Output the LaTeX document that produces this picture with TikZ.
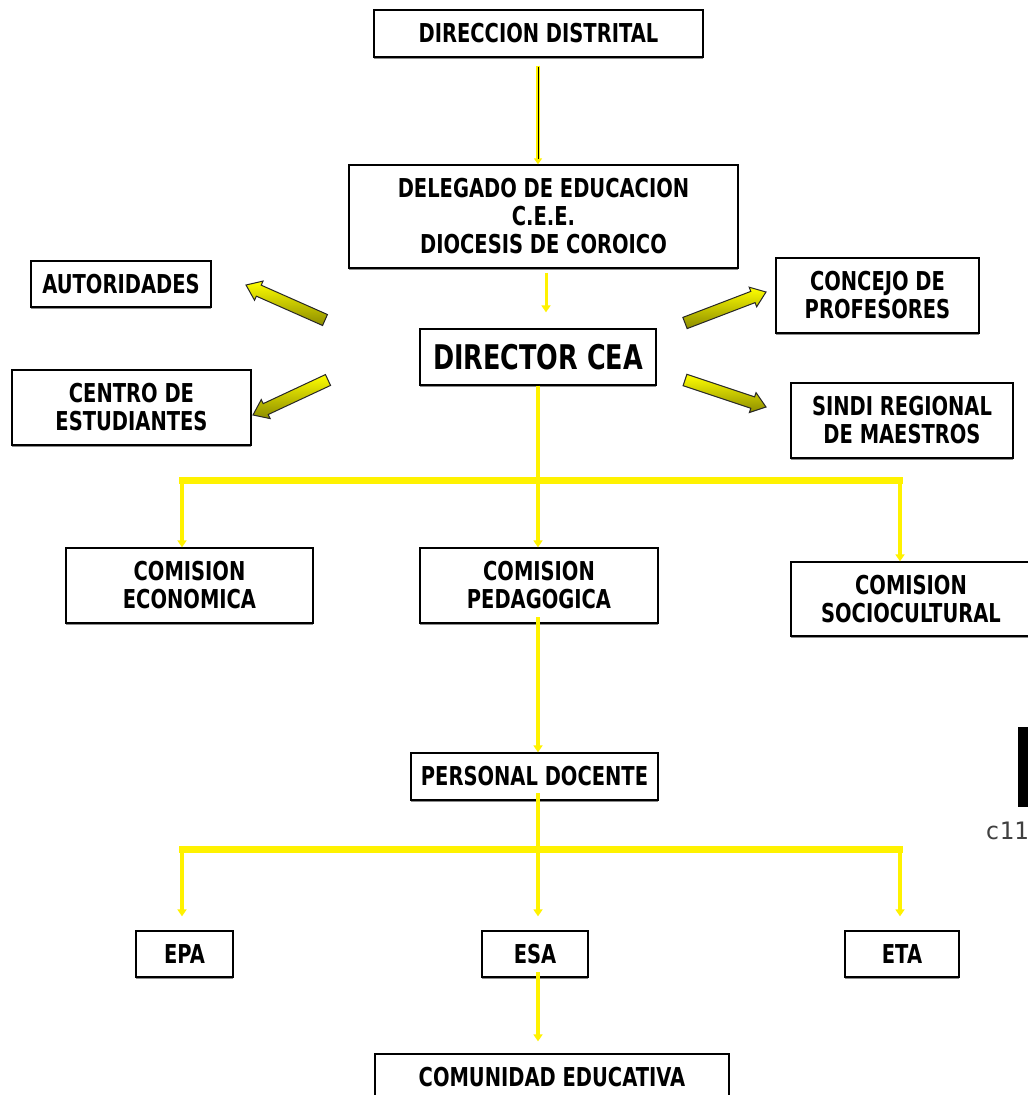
\documentclass[tikz,border=0pt]{standalone}
\usepackage{fontspec}
\newfontfamily\bfont{DejaVu Sans Bold}[FakeStretch=0.75]
\newfontfamily\mfont{DejaVu Sans Mono}
\usetikzlibrary{arrows.meta,calc,shadows}
\definecolor{olivedark}{RGB}{140,140,0}
\newcommand\blkarrow[2]{%
  \path ($(#2)!14pt!(#1)$) coordinate (nk);
  \draw[barrow] ($(#1)!6pt!90:(#2)$) -- ($(nk)!6pt!90:(#2)$) -- ($(nk)!10.5pt!90:(#2)$) -- (#2)
     -- ($(nk)!10.5pt!-90:(#2)$) -- ($(nk)!6pt!-90:(#2)$) -- ($(#1)!6pt!-90:(#2)$) -- cycle;}
\begin{document}
\begin{tikzpicture}[x=1pt,y=-1pt,
  box/.style={draw=black, line width=1.3pt, fill=white, align=center, inner sep=0pt,
    font=\bfont\fontsize{26}{28}\selectfont,
    drop shadow={shadow xshift=0pt,shadow yshift=-2pt,fill=black!45,opacity=1}},
  conn/.style={draw=yellow, line width=4pt, -{Triangle[width=9pt,length=7pt]}, yellow},
  plain/.style={draw=yellow, line width=4pt},
  bus/.style={draw=yellow, line width=7pt},
  barrow/.style={draw=black!85, line width=1pt, top color=yellow, bottom color=olivedark}
]
\useasboundingbox[fill=white] (0,0) rectangle (1028,1095);

% boxes
\node[box, minimum width=329pt, minimum height=47pt] (dd) at (538.5,33.5) {DIRECCION DISTRITAL};
\node[box, minimum width=389pt, minimum height=103pt] (deleg) at (543.5,216.5) {DELEGADO DE EDUCACION\\C.E.E.\\DIOCESIS DE COROICO};
\node[box, minimum width=236pt, minimum height=56pt, font=\bfont\fontsize{34}{36}\selectfont] (dir) at (538,357) {DIRECTOR CEA};
\node[box, minimum width=180pt, minimum height=46pt] (aut) at (121,284) {AUTORIDADES};
\node[box, minimum width=239pt, minimum height=75pt] (cen) at (131.5,407.5) {CENTRO DE\\ESTUDIANTES};
\node[box, minimum width=203pt, minimum height=75pt] (con) at (877.5,295.5) {CONCEJO DE\\PROFESORES};
\node[box, minimum width=222pt, minimum height=75pt] (sin) at (902,420.5) {SINDI REGIONAL\\DE MAESTROS};
\node[box, minimum width=247pt, minimum height=75pt] (ce) at (189.5,585.5) {COMISION\\ECONOMICA};
\node[box, minimum width=238pt, minimum height=75pt] (cp) at (539,585.5) {COMISION\\PEDAGOGICA};
\node[box, minimum width=240pt, minimum height=74pt] (cs) at (911,599) {COMISION\\SOCIOCULTURAL};
\node[box, minimum width=247pt, minimum height=47pt] (pd) at (534.5,776.5) {PERSONAL DOCENTE};
\node[box, minimum width=97pt, minimum height=46pt] (epa) at (184.5,954) {EPA};
\node[box, minimum width=106pt, minimum height=46pt] (esa) at (535,954) {ESA};
\node[box, minimum width=114pt, minimum height=46pt] (eta) at (902,954) {ETA};
\node[box, minimum width=354pt, minimum height=46pt] (com) at (552,1077) {COMUNIDAD EDUCATIVA};

% top thin connector
\coordinate (t1) at ($(dd.south)+(-0.5,0)$);
\draw[yellow, line width=3.5pt, shorten <=8pt, -{Triangle[width=8pt,length=6pt]}] (t1) -- (t1 |- deleg.north);
\draw[black, line width=1pt, shorten <=9pt, shorten >=5pt] (t1) -- (t1 |- deleg.north);

% delegado -> director
\coordinate (t2) at ($(deleg.south)+(2.5,0)$);
\draw[conn, line width=3pt, shorten <=4pt, shorten >=16pt] (t2) -- (t2 |- dir.north);

% director -> bus 1
\coordinate (b1m) at (538,480);
\coordinate (b1l) at (179,480);
\coordinate (b1r) at (903,480);
\draw[plain] (dir.south) -- (b1m);
\draw[bus] (b1l) -- (b1r);
\coordinate (d1) at (182,480);
\coordinate (d3) at (900,480);
\draw[conn] (d1) -- (d1 |- ce.north);
\draw[conn] (b1m) -- (b1m |- cp.north);
\draw[conn] (d3) -- (d3 |- cs.north);

% pedagogica -> personal docente
\coordinate (t3) at (538,617);
\draw[conn] (t3) -- (t3 |- pd.north);

% personal -> bus 2
\coordinate (b2m) at (538,849);
\coordinate (b2l) at (179,849);
\coordinate (b2r) at (903,849);
\coordinate (t4) at (538,793);
\draw[plain] (t4) -- (b2m);
\draw[bus] (b2l) -- (b2r);
\coordinate (e1) at (182,849);
\coordinate (e3) at (900,849);
\draw[conn, shorten >=14pt] (e1) -- (e1 |- epa.north);
\draw[conn, shorten >=14pt] (b2m) -- (b2m |- esa.north);
\draw[conn, shorten >=14pt] (e3) -- (e3 |- eta.north);

% esa -> comunidad
\coordinate (t5) at (538,972);
\draw[conn, shorten >=12pt] (t5) -- (t5 |- com.north);

% block arrows
\coordinate (a1t) at (325,320); \coordinate (a1h) at (246,285);
\coordinate (a2t) at (328,380); \coordinate (a2h) at (253,415);
\coordinate (a3t) at (685,323); \coordinate (a3h) at (766,292);
\coordinate (a4t) at (685,380); \coordinate (a4h) at (766,407);
\blkarrow{a1t}{a1h}
\blkarrow{a2t}{a2h}
\blkarrow{a3t}{a3h}
\blkarrow{a4t}{a4h}

% stray marks at right edge
\node[fill=black, minimum width=12pt, minimum height=80pt, inner sep=0pt, anchor=north west] (art) at (1018,727) {};
\node[anchor=west, inner sep=0pt, text=black!75, font=\mfont\fontsize{24}{26}\selectfont] (c11) at (985,831) {c11};
\end{tikzpicture}
\end{document}
